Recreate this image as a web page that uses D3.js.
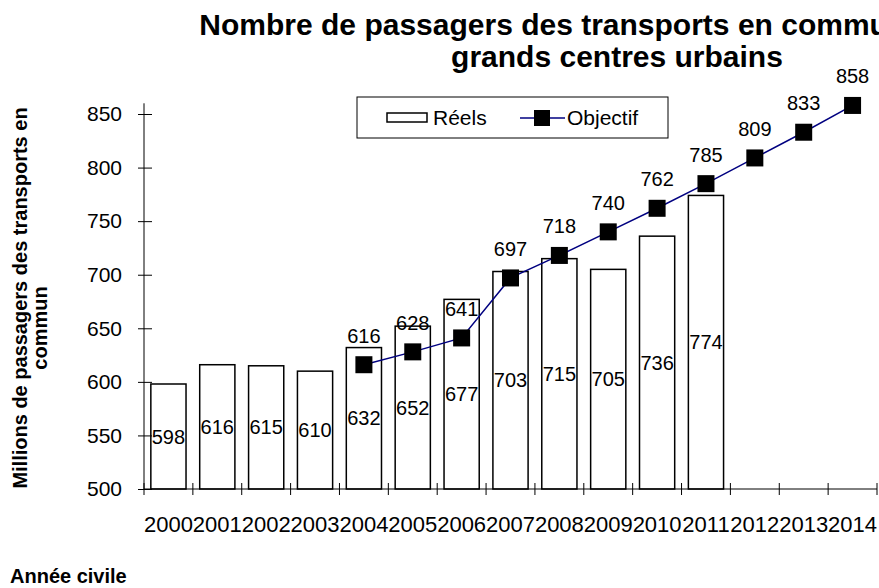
<!DOCTYPE html>
<html>
<head>
<meta charset="utf-8">
<script src="https://cdn.jsdelivr.net/npm/d3@7"></script>
<style>
  body { margin: 0; background: #fff; }
  svg { display: block; font-family: "Liberation Sans", Arial, sans-serif; }
</style>
</head>
<body>
<svg></svg>
<script>
// Chart size
var width = 879;
var height = 588;

// Data
var years = ["2000","2001","2002","2003","2004","2005","2006","2007","2008","2009","2010","2011","2012","2013","2014"];
var reelsYears = ["2000","2001","2002","2003","2004","2005","2006","2007","2008","2009","2010","2011"];
var reels = [598, 616, 615, 610, 632, 652, 677, 703, 715, 705, 736, 774];
var objectifYears = ["2004","2005","2006","2007","2008","2009","2010","2011","2012","2013","2014"];
var objectif = [616, 628, 641, 697, 718, 740, 762, 785, 809, 833, 858];
var yTicks = [500, 550, 600, 650, 700, 750, 800, 850];

var svg = d3.select("svg").attr("width", width).attr("height", height);

// Scales
var xScale = d3.scaleBand().domain(years).range([144, 877]).paddingInner(0.28).paddingOuter(0.14);
var yScale = d3.scaleLinear().domain([500, 860]).range([489, 103.3]);

// Title (cut at the right edge, as in the original)
var title = svg.append("text").attr("text-anchor", "middle").attr("font-weight", "bold").attr("font-size", 30);
title.append("tspan").attr("x", 617).attr("y", 35).text("Nombre de passagers des transports en commun dans les");
title.append("tspan").attr("x", 617).attr("y", 67).text("grands centres urbains");

// Bars
svg.selectAll(".bar").data(reels).enter().append("rect")
    .attr("x", (d, i) => xScale(reelsYears[i]))
    .attr("y", (d) => yScale(d))
    .attr("width", xScale.bandwidth())
    .attr("height", (d) => yScale(500) - yScale(d))
    .attr("fill", "#fff").attr("stroke", "#000").attr("stroke-width", 1.5);

// Y axis
var y_Axis = d3.axisLeft().scale(yScale).tickValues(yTicks).tickSize(6).tickPadding(16);
var gy = svg.append("g").attr("transform", "translate(144,0)").call(y_Axis);
gy.select(".domain").attr("d", "M0," + yScale(500) + "V" + yScale(860));
gy.selectAll(".tick line").attr("x1", -6).attr("x2", 8);
gy.selectAll("text").attr("font-size", 21).attr("font-family", "Liberation Sans, Arial, sans-serif").attr("fill", "#000");

// X axis (ticks between categories)
var x_Axis = d3.axisBottom().scale(xScale).tickSize(0).tickPadding(27);
var gx = svg.append("g").attr("transform", "translate(0,489)").call(x_Axis);
gx.select(".domain").attr("d", "M144,0H877");
gx.selectAll("text").attr("font-size", 22).attr("font-family", "Liberation Sans, Arial, sans-serif").attr("fill", "#000");
var bounds = years.map((y) => xScale(y) - xScale.step() * 0.14).concat([877]);
gx.selectAll(".bound").data(bounds).enter().append("line")
    .attr("x1", (d) => d).attr("x2", (d) => d).attr("y1", -6).attr("y2", 6)
    .attr("stroke", "#000");

// Bar labels
svg.selectAll(".barlab").data(reels).enter().append("text")
    .attr("x", (d, i) => xScale(reelsYears[i]) + xScale.bandwidth() / 2)
    .attr("y", (d) => yScale((d + 500) / 2) + 7)
    .attr("text-anchor", "middle").attr("font-size", 20)
    .text((d) => d);

// Objectif line
var cx = (yr) => xScale(yr) + xScale.bandwidth() / 2;
var line = d3.line().x((d, i) => cx(objectifYears[i])).y((d) => yScale(d));
svg.append("path").datum(objectif).attr("d", line)
    .attr("fill", "none").attr("stroke", "#000080").attr("stroke-width", 1.5);

svg.selectAll(".mark").data(objectif).enter().append("rect")
    .attr("x", (d, i) => cx(objectifYears[i]) - 8.5)
    .attr("y", (d) => yScale(d) - 8.5)
    .attr("width", 17).attr("height", 17).attr("fill", "#000");

svg.selectAll(".objlab").data(objectif).enter().append("text")
    .attr("x", (d, i) => cx(objectifYears[i]))
    .attr("y", (d) => yScale(d) - 22)
    .attr("text-anchor", "middle").attr("font-size", 20)
    .text((d) => d);

// Legend
var leg = svg.append("g");
leg.append("rect").attr("x", 357).attr("y", 97).attr("width", 311).attr("height", 41)
    .attr("fill", "#fff").attr("stroke", "#000").attr("stroke-width", 1);
leg.append("rect").attr("x", 387).attr("y", 113).attr("width", 40).attr("height", 9)
    .attr("fill", "#fff").attr("stroke", "#000").attr("stroke-width", 1.5);
leg.append("text").attr("x", 433).attr("y", 125).attr("font-size", 21).text("Réels");
leg.append("line").attr("x1", 520).attr("x2", 565).attr("y1", 118).attr("y2", 118)
    .attr("stroke", "#000080").attr("stroke-width", 1.5);
leg.append("rect").attr("x", 534).attr("y", 110).attr("width", 16).attr("height", 16).attr("fill", "#000");
leg.append("text").attr("x", 567).attr("y", 125).attr("font-size", 21).text("Objectif");

// Axis titles
var yt = svg.append("text").attr("text-anchor", "middle").attr("font-weight", "bold").attr("font-size", 20)
    .attr("transform", "rotate(-90)");
yt.append("tspan").attr("x", -298).attr("y", 27).text("Millions de passagers des transports en");
yt.append("tspan").attr("x", -328).attr("y", 47).text("commun");

svg.append("text").attr("x", 10).attr("y", 583).attr("font-weight", "bold").attr("font-size", 20).text("Année civile");
</script>
</body>
</html>
